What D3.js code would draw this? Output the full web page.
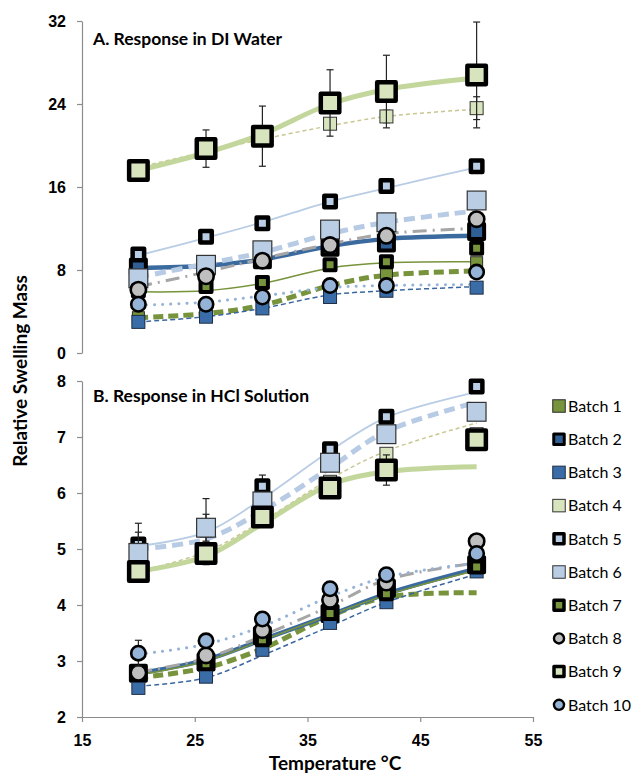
<!DOCTYPE html>
<html>
<head>
<meta charset="utf-8">
<script src="https://cdn.jsdelivr.net/npm/d3@7"></script>
<style>
    body { margin: 0; background: #fff; }
    svg { display: block; font-family: Lato, "Open Sans", sans-serif; }
</style>
</head>
<body>
<div id="chart"></div>
<script>
// temperatures shared by both panels
const temps = [20, 26, 31, 37, 42, 50];
const xTicks = [15, 25, 35, 45, 55];
const waterTicks = [0, 8, 16, 24, 32];
const hclTicks = [2, 3, 4, 5, 6, 7, 8];
const batches = ["Batch 1", "Batch 2", "Batch 3", "Batch 4", "Batch 5",
    "Batch 6", "Batch 7", "Batch 8", "Batch 9", "Batch 10"];

// A. DI water - measured points, one row per batch
const waterMass = [
    [3.4, 3.7, 4.6, 6.0, 7.7, 8.7],
    [8.3, 8.3, 9.0, 10.2, 10.6, 11.7],
    [3.0, 3.5, 4.3, 5.4, 6.0, 6.3],
    [18.0, 19.9, 20.8, 22.1, 22.8, 23.6],
    [9.5, 11.2, 12.5, 14.6, 16.1, 18.0],
    [7.2, 8.5, 9.9, 11.9, 12.6, 14.7],
    [6.0, 6.4, 6.8, 8.5, 8.8, 10.1],
    [6.1, 7.4, 8.9, 10.4, 11.3, 12.9],
    [17.6, 19.7, 20.9, 24.1, 25.2, 26.8],
    [4.7, 4.7, 5.4, 6.5, 6.5, 7.8]
];
// trendline values read at the same temperatures
const waterTrend = [
    [3.4, 3.8, 4.6, 6.5, 7.5, 7.9],
    [8.2, 8.4, 9.0, 10.3, 11.0, 11.3],
    [3.0, 3.5, 4.3, 5.6, 6.0, 6.4],
    [17.9, 19.4, 20.6, 21.9, 22.8, 23.5],
    [9.4, 11.1, 12.6, 14.6, 15.9, 17.9],
    [7.3, 8.6, 9.7, 11.5, 12.6, 13.7],
    [5.9, 6.0, 6.7, 8.2, 8.7, 8.8],
    [6.4, 7.8, 9.1, 10.5, 11.5, 12.0],
    [17.6, 19.3, 21.1, 24.0, 25.4, 26.5],
    [4.6, 4.9, 5.5, 6.3, 6.5, 6.6]
];
const waterErr = [
    [0, 0, 0, 0, 0, 0],
    [0, 0, 0, 0, 0, 0],
    [0, 0, 0, 0, 0, 0],
    [0.3, 0.3, 0.4, 0.5, 0.6, 1.1],
    [0, 0, 0, 0, 0.4, 0],
    [0, 0, 0, 0, 0, 0],
    [0, 0, 0, 0, 0, 0],
    [0, 0, 0, 0, 0, 0],
    [0.3, 1.8, 2.9, 3.2, 3.5, 5.1],
    [0, 0, 0, 0, 0, 0.3]
];

// B. HCl solution
const hclMass = [
    [2.6, 2.75, 3.25, 3.8, 4.1, 4.65],
    [2.78, 2.98, 3.45, 3.85, 4.3, 4.72],
    [2.52, 2.72, 3.2, 3.68, 4.05, 4.6],
    [4.7, 5.0, 5.65, 6.2, 6.7, 7.05],
    [5.08, 5.35, 6.12, 6.78, 7.36, 7.9],
    [4.93, 5.38, 5.85, 6.54, 7.05, 7.45],
    [2.75, 2.95, 3.38, 3.85, 4.2, 4.68],
    [2.79, 3.1, 3.55, 4.09, 4.4, 5.14],
    [4.6, 4.92, 5.57, 6.09, 6.41, 6.95],
    [3.14, 3.36, 3.75, 4.29, 4.54, 4.92]
];
const hclTrend = [
    [2.7, 2.88, 3.22, 3.8, 4.14, 4.22],
    [2.78, 3.02, 3.38, 3.82, 4.2, 4.65],
    [2.55, 2.7, 3.1, 3.62, 4.05, 4.55],
    [4.6, 4.95, 5.5, 6.25, 6.75, 7.25],
    [5.05, 5.3, 5.9, 6.75, 7.35, 7.8],
    [5.0, 5.18, 5.68, 6.45, 7.1, 7.62],
    [2.75, 3.0, 3.37, 3.82, 4.18, 4.62],
    [2.8, 3.05, 3.45, 3.98, 4.45, 4.75],
    [4.6, 4.87, 5.45, 6.15, 6.38, 6.47],
    [3.12, 3.3, 3.62, 4.15, 4.5, 4.75]
];
const hclErr = [
    [0, 0, 0, 0, 0, 0],
    [0, 0, 0, 0, 0, 0],
    [0, 0, 0, 0, 0, 0],
    [0, 0, 0, 0, 0, 0],
    [0.38, 0.55, 0.2, 0, 0, 0],
    [0.37, 0.24, 0, 0, 0, 0],
    [0, 0, 0, 0, 0.12, 0],
    [0, 0, 0, 0, 0, 0],
    [0, 0.2, 0, 0, 0.27, 0],
    [0.23, 0, 0, 0, 0, 0]
];

// marker + trendline look for each batch (lsw = border in the legend)
const styles = [
    { shape: "sq", size: 13, fill: "#77933c", stroke: "#2b2b2b", sw: 1, lsw: 1, line: "#77933c", lw: 5, dash: "10,5" },
    { shape: "sq", size: 19, fill: "#2f5f95", stroke: "#000", sw: 4, lsw: 3, line: "#3b6a9f", lw: 4.5, dash: null },
    { shape: "sq", size: 14, fill: "#3a6da8", stroke: "#1e2d44", sw: 1, lsw: 1, line: "#3b67a0", lw: 1.5, dash: "5,3" },
    { shape: "sq", size: 14, fill: "#d7e4bd", stroke: "#333", sw: 1, lsw: 1, line: "#c9c791", lw: 1.5, dash: "4,3" },
    { shape: "sq", size: 16, fill: "#b9cde5", stroke: "#000", sw: 4.5, lsw: 3.5, line: "#b9cde5", lw: 1.8, dash: null },
    { shape: "sq", size: 20, fill: "#b9cde5", stroke: "#333", sw: 1.2, lsw: 1, line: "#b7cbe4", lw: 5, dash: "11,6" },
    { shape: "sq", size: 15, fill: "#77933c", stroke: "#000", sw: 4, lsw: 3.5, line: "#77933c", lw: 1.5, dash: null },
    { shape: "ci", size: 18, fill: "#bfbfbf", stroke: "#000", sw: 2.6, lsw: 2.4, line: "#a6a6a6", lw: 3, dash: "14,6,2,6" },
    { shape: "sq", size: 23, fill: "#d7e4bd", stroke: "#000", sw: 4.5, lsw: 3.5, line: "#c3d69b", lw: 5, dash: null },
    { shape: "ci", size: 17, fill: "#95b3d7", stroke: "#000", sw: 2.6, lsw: 2.4, line: "#95b3d7", lw: 3, dash: "0.1,8" }
];

const width = 634;
const height = 774;

const svg = d3.select("#chart")
    .append("svg")
    .attr("width", width)
    .attr("height", height);

const x = d3.scaleLinear().domain([15, 55]).range([82, 533]);
const yWater = d3.scaleLinear().domain([0, 32]).range([353, 21]);
const yHcl = d3.scaleLinear().domain([2, 8]).range([717, 381]);

function styleAxis(g) {
    g.select(".domain").attr("stroke", "#8c8c8c").attr("stroke-width", 1.2);
    g.selectAll(".tick line").attr("stroke", "#8c8c8c").attr("stroke-width", 1.2);
    g.selectAll(".tick text")
        .attr("fill", "#000")
        .style("font-size", "16px")
        .style("font-weight", "bold");
}

function drawMarker(sel, shape, s, sw, fill, stroke, cx, cy) {
    if (shape === "ci") {
        sel.append("circle")
            .attr("cx", cx).attr("cy", cy)
            .attr("r", (s - sw) / 2)
            .attr("fill", fill)
            .attr("stroke", stroke)
            .attr("stroke-width", sw);
    } else {
        sel.append("rect")
            .attr("x", cx - (s - sw) / 2).attr("y", cy - (s - sw) / 2)
            .attr("width", s - sw).attr("height", s - sw)
            .attr("fill", fill)
            .attr("stroke", stroke)
            .attr("stroke-width", sw)
            .attr("stroke-linejoin", sw > 2 ? "round" : "miter");
    }
}

function drawPanel(y, ticks, mass, trend, err, title, titleY) {
    const panel = svg.append("g");

    panel.append("g")
        .attr("transform", `translate(${x(15)},0)`)
        .call(d3.axisLeft(y).tickValues(ticks).tickFormat(d3.format("d"))
            .tickSize(5).tickSizeOuter(0).tickPadding(11))
        .call(styleAxis);

    panel.append("text")
        .attr("x", 93)
        .attr("y", titleY)
        .style("font-size", "17.5px")
        .style("font-weight", "bold")
        .text(title);

    const line = d3.line()
        .x((d, i) => x(temps[i]))
        .y(d => y(d))
        .curve(d3.curveCatmullRom.alpha(0.5));

    // trendlines under the markers
    panel.append("g")
        .selectAll("path")
        .data(trend)
        .join("path")
        .attr("d", line)
        .attr("fill", "none")
        .attr("stroke", (d, i) => styles[i].line)
        .attr("stroke-width", (d, i) => styles[i].lw)
        .attr("stroke-dasharray", (d, i) => styles[i].dash)
        .attr("stroke-linecap", (d, i) => i === 9 ? "round" : "butt");

    // markers and error bars, batch 1 first so batch 10 ends on top
    mass.forEach((row, i) => {
        const st = styles[i];
        const g = panel.append("g");
        row.forEach((v, j) => {
            const e = err[i][j];
            if (e > 0) {
                const cx = x(temps[j]);
                g.append("line")
                    .attr("x1", cx).attr("x2", cx)
                    .attr("y1", y(v - e)).attr("y2", y(v + e))
                    .attr("stroke", "#222").attr("stroke-width", 1.2);
                [v - e, v + e].forEach(w => {
                    g.append("line")
                        .attr("x1", cx - 3.5).attr("x2", cx + 3.5)
                        .attr("y1", y(w)).attr("y2", y(w))
                        .attr("stroke", "#222").attr("stroke-width", 1.2);
                });
            }
        });
        row.forEach((v, j) => drawMarker(g, st.shape, st.size, st.sw, st.fill, st.stroke, x(temps[j]), y(v)));
    });
    return panel;
}

drawPanel(yWater, waterTicks, waterMass, waterTrend, waterErr, "A. Response in DI Water", 45);
drawPanel(yHcl, hclTicks, hclMass, hclTrend, hclErr, "B. Response in HCl Solution", 402);

// shared x axis at the bottom
svg.append("g")
    .attr("transform", `translate(0,${yHcl(2)})`)
    .call(d3.axisBottom(x).tickValues(xTicks).tickSize(5).tickSizeOuter(0).tickPadding(13))
    .call(styleAxis);

svg.append("text")
    .attr("x", 335)
    .attr("y", 770)
    .attr("text-anchor", "middle")
    .style("font-size", "19px")
    .style("font-weight", "bold")
    .text("Temperature °C");

svg.append("text")
    .attr("transform", "translate(27,371) rotate(-90)")
    .attr("text-anchor", "middle")
    .style("font-size", "19px")
    .style("font-weight", "bold")
    .text("Relative Swelling Mass");

// legend
const legend = svg.append("g")
    .selectAll("g")
    .data(batches)
    .join("g")
    .attr("transform", (d, i) => `translate(559,${406 + i * 33.2})`);

legend.each(function (d, i) {
    const st = styles[i];
    drawMarker(d3.select(this), st.shape, st.shape === "ci" ? 12.5 : 13.5, st.lsw, st.fill, st.stroke, 0, 0);
});

legend.append("text")
    .attr("x", 9)
    .attr("dy", "0.36em")
    .style("font-size", "16px")
    .text(d => d);
</script>
</body>
</html>
